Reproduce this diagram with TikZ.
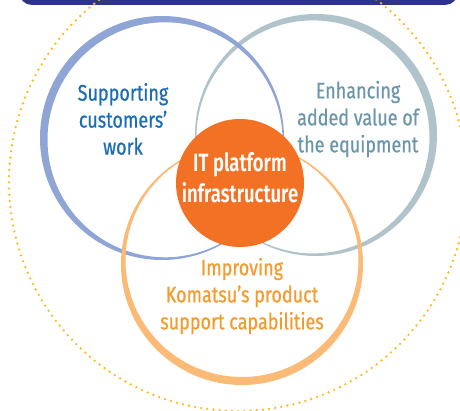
\documentclass[tikz,border=0pt]{standalone}
\usepackage{fontspec}
\setmainfont{Fira Sans}[FakeStretch=0.80, FakeBold=0.6]
\newfontfamily\boldcond{Fira Sans}[FakeStretch=0.74,UprightFont=* SemiBold]
\definecolor{navy}{HTML}{2E3488}
\definecolor{ringblue}{HTML}{8EA5D6}
\definecolor{txtblue}{HTML}{1C6DB5}
\definecolor{ringgray}{HTML}{B0C3CB}
\definecolor{txtgray}{HTML}{6B96AA}
\definecolor{ringorange}{HTML}{FBBB77}
\definecolor{txtorange}{HTML}{F39B2E}
\definecolor{fillorange}{HTML}{F37124}
\definecolor{dotyellow}{HTML}{FDBA1A}
\tikzset{
  lbl/.style={align=center, font=\fontsize{22.5}{27}\selectfont},
  core/.style={circle, fill=fillorange, minimum size=128pt, inner sep=0pt},
}
\begin{document}
\begin{tikzpicture}[x=1pt,y=-1pt]
\useasboundingbox (0,0) rectangle (460,411);
\begin{scope}
\clip (0,0) rectangle (460,411);
% top bar
\fill[navy, rounded corners=13pt] (19,-40) rectangle (458,5);
% dotted circle
\draw[dotyellow, line width=2.6pt, line cap=round, dash pattern=on 0pt off 6.2pt] (238,182) circle[radius=229];
\end{scope}
% gray ring (thin lower-left)
\fill[ringgray, even odd rule] (316,135) circle[radius=121] (313.0,136.9) circle[radius=116.5];
% blue ring (thin lower-right)
\fill[ringblue, even odd rule] (162,138) circle[radius=122] (165.0,139.8) circle[radius=117.5];
% orange ring (thin top)
\fill[ringorange, even odd rule] (242,264) circle[radius=121] (242,260.5) circle[radius=116.5];
% core
\node[core] (core) at (240,183) {};
\node[align=center, text=white, font=\boldcond\fontsize{25}{31}\selectfont] (coretxt) at (240,178) {IT platform\\infrastructure};
\node[lbl, text=txtblue] (sup) at (123,119) {Supporting\\customers’\\work};
\node[lbl, text=txtgray] (enh) at (358,119) {Enhancing\\added value of\\the equipment};
\node[lbl, text=txtorange] (imp) at (242,296) {Improving\\Komatsu’s product\\support capabilities};
\end{tikzpicture}
\end{document}
